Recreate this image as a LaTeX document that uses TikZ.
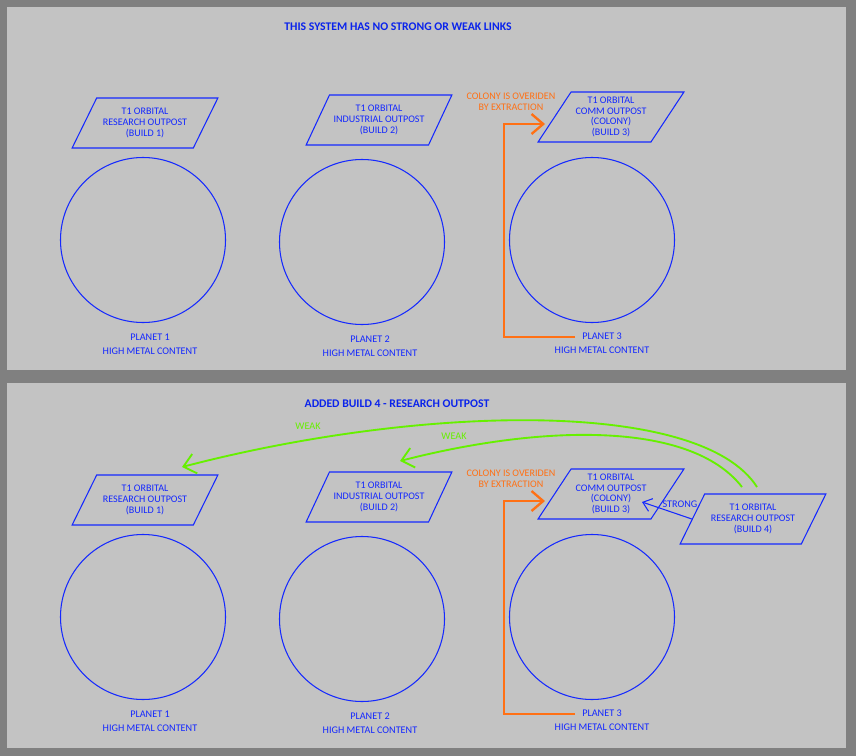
\documentclass[tikz,border=0pt]{standalone}
\usepackage{fontspec}
\setmainfont{Carlito}
\usepackage{tikz}
\usetikzlibrary{positioning, arrows.meta, calc, shapes.geometric}
\definecolor{frameGray}{RGB}{128,128,128}
\definecolor{panelGray}{RGB}{195,195,195}
\definecolor{outpostBlue}{RGB}{20,40,255}
\definecolor{titleBlue}{RGB}{10,35,235}
\definecolor{extractOrange}{RGB}{255,112,20}
\definecolor{weakGreen}{RGB}{102,240,0}

\begin{document}
\begin{tikzpicture}[
        x=0.03cm, y=-0.03cm,
        outpost/.style={trapezium, trapezium left angle=54, trapezium right angle=126, trapezium stretches=true, draw=outpostBlue, line width=0.9pt, minimum width=4.38cm, minimum height=1.5cm, inner sep=0pt, text=outpostBlue, align=center, font=\fontsize{8.6}{9.2}\selectfont},
        planet/.style={circle, draw=outpostBlue, line width=0.9pt, minimum size=4.95cm, inner sep=0pt},
        planetlabel/.style={text=outpostBlue, align=center, font=\fontsize{8.7}{12}\selectfont},
        heading/.style={text=titleBlue, font=\fontsize{10}{12}\selectfont\bfseries},
        note/.style={text=extractOrange, align=center, font=\fontsize{8.6}{9.5}\selectfont},
        extract/.style={draw=extractOrange, line width=2pt, -{Straight Barb[length=3.5mm, width=6mm]}},
        weak/.style={draw=weakGreen, line width=1.6pt, -{Straight Barb[length=3.5mm, width=6mm]}},
        strong/.style={draw=outpostBlue, line width=0.9pt, -{Straight Barb[length=2.5mm, width=4mm]}},
        linklabel/.style={font=\fontsize{8.7}{9}\selectfont}
    ]
        % Frame and panels
        \fill[frameGray] (0,0) rectangle (856,756);
        \fill[panelGray] (7,7) rectangle (846,370);
        \fill[panelGray] (7,383) rectangle (846,748);

        % ---------- Panel 1 ----------
        \node[heading] (titleA) at (398,27) {THIS SYSTEM HAS NO STRONG OR WEAK LINKS};

        % Outposts
        \node[outpost] (researchA) at (145,123) {T1 ORBITAL\\ RESEARCH OUTPOST\\ (BUILD 1)};
        \node[outpost] (industryA) at (379,120) {T1 ORBITAL\\ INDUSTRIAL OUTPOST\\ (BUILD 2)};
        \node[outpost] (colonyA) at (611,117) {T1 ORBITAL\\ COMM OUTPOST\\ (COLONY)\\ (BUILD 3)};

        % Planets
        \node[planet] (planetA1) at (143,240) {};
        \node[planet] (planetA2) at (362,242) {};
        \node[planet] (planetA3) at (592,240) {};
        \node[planetlabel] (labelA1) at (150,344) {PLANET 1\\ HIGH METAL CONTENT};
        \node[planetlabel] (labelA2) at (370,346) {PLANET 2\\ HIGH METAL CONTENT};
        \node[planetlabel] (labelA3) at (602,343) {PLANET 3\\ HIGH METAL CONTENT};

        % Extraction override
        \node[note] (noteA) at (511,102) {COLONY IS OVERIDEN\\ BY EXTRACTION};
        \coordinate (extA) at (575,337);
        \coordinate (colonyInA) at (545,124);
        \draw[extract] (extA) -- ++(-71,0) |- (colonyInA);

        % ---------- Panel 2 ----------
        \node[heading] (titleB) at (397,404) {ADDED BUILD 4 - RESEARCH OUTPOST};

        % Outposts
        \node[outpost] (researchB) at (145,500) {T1 ORBITAL\\ RESEARCH OUTPOST\\ (BUILD 1)};
        \node[outpost] (industryB) at (379,497) {T1 ORBITAL\\ INDUSTRIAL OUTPOST\\ (BUILD 2)};
        \node[outpost] (colonyB) at (611,494) {T1 ORBITAL\\ COMM OUTPOST\\ (COLONY)\\ (BUILD 3)};
        \node[outpost] (build4) at (753,519) {T1 ORBITAL\\ RESEARCH OUTPOST\\ (BUILD 4)};

        % Planets
        \node[planet] (planetB1) at (143,617) {};
        \node[planet] (planetB2) at (362,619) {};
        \node[planet] (planetB3) at (592,617) {};
        \node[planetlabel] (labelB1) at (150,721) {PLANET 1\\ HIGH METAL CONTENT};
        \node[planetlabel] (labelB2) at (370,723) {PLANET 2\\ HIGH METAL CONTENT};
        \node[planetlabel] (labelB3) at (602,720) {PLANET 3\\ HIGH METAL CONTENT};

        % Extraction override
        \node[note] (noteB) at (511,479) {COLONY IS OVERIDEN\\ BY EXTRACTION};
        \coordinate (extB) at (575,714);
        \coordinate (colonyInB) at (545,501);
        \draw[extract] (extB) -- ++(-71,0) |- (colonyInB);

        % Links from build 4
        \coordinate (weakOut1) at (757,487);
        \coordinate (weakOut2) at (742,487);
        \coordinate (weakIn1) at (182,467);
        \coordinate (weakIn2) at (400,461);
        \coordinate (strongIn) at (642,502);
        \draw[weak] (weakOut1) .. controls (700,398) and (420,405) .. (weakIn1);
        \draw[weak] (weakOut2) .. controls (690,420) and (540,425) .. (weakIn2);
        \draw[strong] (build4.west) -- (strongIn);
        \node[linklabel, text=weakGreen] (weakLabel1) at (308,426) {WEAK};
        \node[linklabel, text=weakGreen] (weakLabel2) at (454,436) {WEAK};
        \node[linklabel, text=outpostBlue] (strongLabel) at (680,504) {STRONG};
    \end{tikzpicture}
\end{document}
